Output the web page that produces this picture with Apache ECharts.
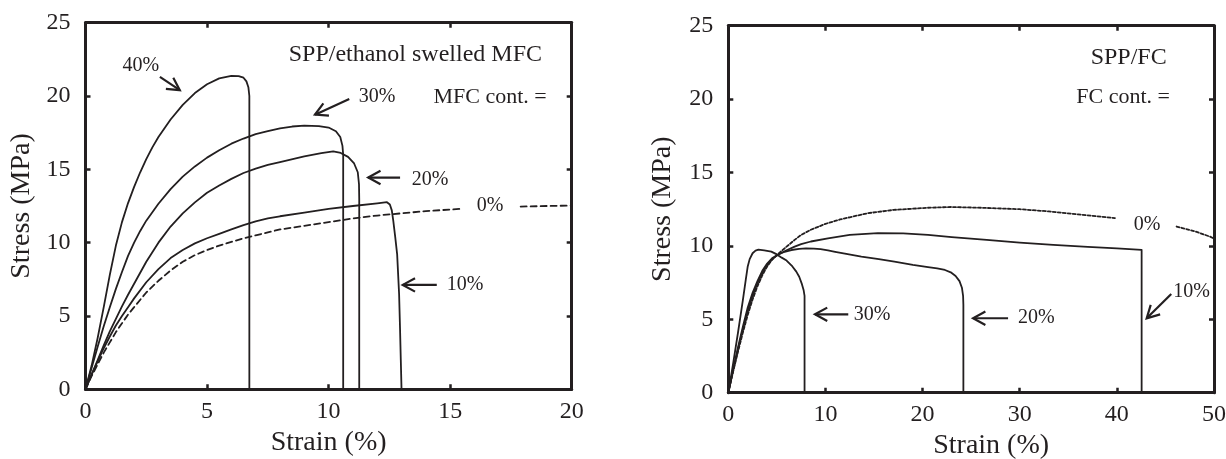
<!DOCTYPE html>
<html>
<head>
<meta charset="utf-8">
<script src="https://cdn.jsdelivr.net/npm/echarts@6/dist/echarts.min.js"></script>
<style>
  html, body { margin: 0; padding: 0; background: #fff; }
  #chart { width: 1226px; height: 459px; }
</style>
</head>
<body>
<div id="chart"></div>
<script>
// ---- Stress-strain curves, [strain %, stress MPa] ----
// SPP / ethanol swelled MFC
const mfc0 = [[0,0],[0.25,0.9],[0.5,1.7],[0.75,2.5],[1.0,3.2],[1.25,3.9],[1.5,4.5],[1.75,5.1],[2.0,5.6],[2.5,6.6],[3.0,7.4],[3.5,8.1],[4.0,8.7],[4.5,9.15],[5.0,9.5],[5.5,9.8],[6.0,10.05],[6.5,10.3],[7.0,10.5],[7.5,10.7],[8.0,10.9],[9.0,11.15],[10,11.4],[11,11.65],[12,11.85],[13,12.0],[14,12.15],[15.4,12.3],['-','-'],[17.9,12.46],[19,12.5],[20,12.53]];
const mfc10 = [[0,0],[0.25,1.0],[0.5,1.9],[0.75,2.8],[1.0,3.6],[1.25,4.35],[1.5,5.0],[1.75,5.6],[2.0,6.2],[2.5,7.3],[3.0,8.2],[3.5,8.95],[4.0,9.5],[4.5,9.95],[5.0,10.3],[5.5,10.6],[6.0,10.9],[6.5,11.2],[7.0,11.45],[7.5,11.65],[8.0,11.8],[9.0,12.05],[10.0,12.3],[11.0,12.5],[12.0,12.68],[12.4,12.76],[12.52,12.6],[12.6,12.2],[12.66,11.5],[12.74,10.4],[12.82,9.2],[12.9,6.5],[12.94,4.05],[12.97,2],[13.0,0]];
const mfc20 = [[0,0],[0.25,1.0],[0.5,2.0],[0.75,3.0],[1.0,3.95],[1.25,4.8],[1.5,5.65],[1.75,6.45],[2.0,7.2],[2.25,7.95],[2.5,8.7],[3.0,10.0],[3.5,11.1],[4.0,12.0],[4.5,12.75],[5.0,13.4],[5.5,13.9],[6.0,14.35],[6.5,14.75],[7.0,15.05],[7.5,15.3],[8.0,15.5],[9.0,15.88],[9.7,16.1],[10.19,16.22],[10.5,16.12],[10.8,15.85],[11.05,15.4],[11.2,14.8],[11.25,14.0],[11.26,13.0],[11.26,0]];
const mfc30 = [[0,0],[0.25,1.45],[0.5,2.9],[0.75,4.3],[1.0,5.6],[1.25,6.85],[1.5,8.0],[1.75,9.1],[2.0,10.0],[2.25,10.8],[2.5,11.5],[3.0,12.65],[3.5,13.65],[4.0,14.5],[4.5,15.2],[5.0,15.8],[5.5,16.3],[6.0,16.75],[6.5,17.1],[7.0,17.4],[7.5,17.6],[8.0,17.8],[8.5,17.92],[9.0,17.98],[9.6,17.95],[10.0,17.85],[10.3,17.6],[10.48,17.2],[10.57,16.6],[10.6,16.0],[10.6,0]];
const mfc40 = [[0,0],[0.25,1.6],[0.5,3.5],[0.75,5.6],[1.0,7.8],[1.25,9.8],[1.5,11.4],[1.75,12.7],[2.0,13.8],[2.25,14.8],[2.5,15.7],[2.75,16.5],[3.0,17.2],[3.5,18.4],[4.0,19.4],[4.5,20.2],[5.0,20.8],[5.5,21.2],[6.0,21.38],[6.3,21.36],[6.5,21.25],[6.62,21.0],[6.7,20.6],[6.74,20.0],[6.74,0]];

// SPP / FC
const fc0 = [[0,0],[0.5,1.45],[1.0,2.8],[1.5,4.1],[2.0,5.3],[2.5,6.35],[3.0,7.25],[3.5,8.0],[4.0,8.6],[4.5,9.05],[5.12,9.45],[6.0,9.95],[6.83,10.41],[7.5,10.75],[8.5,11.1],[10.0,11.5],[11.5,11.8],[12.5,11.95],[14.38,12.23],[17,12.45],[20.56,12.6],[23,12.65],[26,12.6],[30,12.5],[33,12.35],[36,12.15],[39.8,11.89],['-','-'],[46.15,11.32],[48,11.0],[49.6,10.63],[50,10.5]];
const fc10 = [[0,0],[0.5,1.6],[1.0,3.1],[1.5,4.5],[2.0,5.8],[2.5,6.8],[3.0,7.6],[3.5,8.3],[4.0,8.8],[4.5,9.15],[5.1,9.4],[6.0,9.7],[6.83,9.95],[7.5,10.12],[8.5,10.3],[10.26,10.52],[12.5,10.75],[15.4,10.87],[18,10.85],[20.56,10.75],[23,10.6],[26.6,10.41],[30,10.22],[33.45,10.07],[37,9.93],[40,9.83],[42.55,9.73],[42.55,0]];
const fc20 = [[0,0],[0.5,1.5],[1.0,2.95],[1.5,4.3],[2.0,5.55],[2.5,6.6],[3.0,7.45],[3.5,8.15],[4.0,8.7],[4.5,9.1],[5.1,9.4],[5.8,9.6],[6.5,9.72],[7.3,9.8],[8.0,9.83],[8.8,9.82],[9.5,9.78],[10.26,9.7],[11,9.6],[12,9.47],[13.7,9.27],[15.5,9.1],[17.1,8.93],[19,8.7],[20.56,8.55],[21.5,8.47],[22.3,8.36],[22.9,8.2],[23.4,7.95],[23.8,7.6],[24.05,7.15],[24.17,6.6],[24.2,6.0],[24.2,0]];
const fc30 = [[0,0],[0.5,2.0],[1.0,4.1],[1.5,6.3],[1.8,7.7],[2.0,8.6],[2.2,9.1],[2.5,9.5],[2.8,9.68],[3.1,9.74],[3.7,9.7],[4.43,9.61],[5.0,9.42],[5.5,9.2],[6.0,9.0],[6.6,8.6],[7.0,8.25],[7.3,7.9],[7.55,7.45],[7.75,7.0],[7.85,6.6],[7.85,0]];

// ---- Axis ranges and ticks ----
const mfcStrainTicks = { min: 0, max: 20, interval: 5 };
const fcStrainTicks = { min: 0, max: 50, interval: 10 };
const stressTicks = { min: 0, max: 25, interval: 5 };

// ---- Annotations (data coordinates) ----
const mfcArrows = [[3.06,21.3,3.88,20.4],[10.85,19.8,9.44,18.73],[12.94,14.44,11.63,14.44],[14.45,7.12,13.05,7.12]];
const mfcLabelText = ['40%','30%','20%','0%','10%'];
const mfcLabelAt = [[2.28,22.07],[11.99,19.95],[14.17,14.29],[16.64,12.51],[15.61,7.12]];
const mfcHeadText = ['SPP/ethanol swelled MFC','MFC cont. ='];
const mfcHeadAt = [[18.78,22.85],[18.97,19.92]];

const fcArrows = [[45.6,6.72,43.07,5.07],[28.8,5.07,25.2,5.07],[12.35,5.34,8.92,5.34]];
const fcLabelText = ['0%','10%','20%','30%'];
const fcLabelAt = [[43.1,11.43],[47.7,6.86],[31.7,5.09],[14.8,5.3]];
const fcHeadText = ['SPP/FC','FC cont. ='];
const fcHeadAt = [[45.13,22.8],[45.47,20.12]];

const FONT = '"Liberation Serif", "Times New Roman", serif';
const INK = '#231f20';

function mainX(grid, ticks, namePad) {
  return {
    gridIndex: grid, type: 'value', position: 'bottom',
    min: ticks.min, max: ticks.max, interval: ticks.interval,
    name: 'Strain (%)', nameLocation: 'middle', nameGap: 37,
    nameTextStyle: { fontFamily: FONT, fontSize: 28, color: INK, padding: namePad },
    axisLine: { show: true, onZero: false, lineStyle: { color: INK, width: 3 } },
    axisTick: { show: true, inside: true, length: 5, lineStyle: { color: INK, width: 2.5 } },
    axisLabel: { show: true, margin: 10, fontFamily: FONT, fontSize: 24, color: INK, showMinLabel: true, showMaxLabel: true, hideOverlap: false },
    splitLine: { show: false }
  };
}
function mirrorX(grid, ticks) {
  return {
    gridIndex: grid, type: 'value', position: 'top',
    min: ticks.min, max: ticks.max, interval: ticks.interval,
    axisLine: { show: true, onZero: false, lineStyle: { color: INK, width: 3 } },
    axisTick: { show: true, inside: true, length: 5, lineStyle: { color: INK, width: 2.5 } },
    axisLabel: { show: false }, splitLine: { show: false }
  };
}
function mainY(grid, gap) {
  return {
    gridIndex: grid, type: 'value', position: 'left',
    min: stressTicks.min, max: stressTicks.max, interval: stressTicks.interval,
    name: 'Stress (MPa)', nameLocation: 'middle', nameGap: gap, nameRotate: 90,
    nameTextStyle: { fontFamily: FONT, fontSize: 28, color: INK },
    axisLine: { show: true, onZero: false, lineStyle: { color: INK, width: 3 } },
    axisTick: { show: true, inside: true, length: 5, lineStyle: { color: INK, width: 2.5 } },
    axisLabel: { show: true, margin: 15, fontFamily: FONT, fontSize: 24, color: INK, showMinLabel: true, showMaxLabel: true, hideOverlap: false },
    splitLine: { show: false }
  };
}
function mirrorY(grid) {
  return {
    gridIndex: grid, type: 'value', position: 'right',
    min: stressTicks.min, max: stressTicks.max, interval: stressTicks.interval,
    axisLine: { show: true, onZero: false, lineStyle: { color: INK, width: 3 } },
    axisTick: { show: true, inside: true, length: 5, lineStyle: { color: INK, width: 2.5 } },
    axisLabel: { show: false }, splitLine: { show: false }
  };
}

function curve(data, xi, yi, dashed) {
  return {
    type: 'line', xAxisIndex: xi, yAxisIndex: yi, data: data,
    showSymbol: false, symbol: 'none', smooth: false, connectNulls: false,
    silent: true, animation: false, z: 3,
    lineStyle: { color: INK, width: dashed ? 1.8 : 1.8, type: dashed || 'solid', cap: 'round', join: 'round' }
  };
}

// Straight arrow with an open V-shaped head at the end point
function arrowSeries(data, xi, yi) {
  return {
    type: 'custom', xAxisIndex: xi, yAxisIndex: yi, data: data,
    encode: { x: [0, 2], y: [1, 3] }, silent: true, animation: false, z: 4,
    renderItem: function (params, api) {
      const a = api.coord([api.value(0), api.value(1)]);
      const b = api.coord([api.value(2), api.value(3)]);
      const ang = Math.atan2(b[1] - a[1], b[0] - a[0]);
      const L = 14, spread = 0.5;
      const h1 = [b[0] - L * Math.cos(ang - spread), b[1] - L * Math.sin(ang - spread)];
      const h2 = [b[0] - L * Math.cos(ang + spread), b[1] - L * Math.sin(ang + spread)];
      const st = { stroke: INK, lineWidth: 2.2, fill: null };
      return {
        type: 'group', children: [
          { type: 'line', shape: { x1: a[0], y1: a[1], x2: b[0], y2: b[1] }, style: st },
          { type: 'polyline', shape: { points: [h1, b, h2] }, style: st }
        ]
      };
    }
  };
}

// Text placed at data coordinates
function textSeries(at, texts, xi, yi, size, align) {
  return {
    type: 'custom', xAxisIndex: xi, yAxisIndex: yi, data: at,
    encode: { x: 0, y: 1 }, silent: true, animation: false, z: 5,
    renderItem: function (params, api) {
      const p = api.coord([api.value(0), api.value(1)]);
      return {
        type: 'text', x: p[0], y: p[1],
        style: {
          text: texts[params.dataIndex], fill: INK,
          font: size + 'px ' + FONT, align: align, verticalAlign: 'middle'
        }
      };
    }
  };
}

const chart = echarts.init(document.getElementById('chart'), null, { renderer: 'canvas' });
chart.setOption({
  backgroundColor: '#ffffff',
  animation: false,
  grid: [
    { left: 85.5, top: 22.7, width: 486.2, height: 366.6, containLabel: false, outerBoundsMode: 'none' },
    { left: 728.3, top: 25.7, width: 485.7, height: 367, containLabel: false, outerBoundsMode: 'none' }
  ],
  xAxis: [
    mainX(0, mfcStrainTicks, [0, 0, 0, 0]),
    mirrorX(0, mfcStrainTicks),
    mainX(1, fcStrainTicks, [0, 0, 0, 40]),
    mirrorX(1, fcStrainTicks)
  ],
  yAxis: [
    mainY(0, 50),
    mirrorY(0),
    mainY(1, 52),
    mirrorY(1)
  ],
  series: [
    curve(mfc0, 0, 0, [6, 4]),
    curve(mfc10, 0, 0),
    curve(mfc20, 0, 0),
    curve(mfc30, 0, 0),
    curve(mfc40, 0, 0),
    arrowSeries(mfcArrows, 0, 0),
    textSeries(mfcLabelAt, mfcLabelText, 0, 0, 20, 'center'),
    textSeries(mfcHeadAt.slice(0, 1), mfcHeadText.slice(0, 1), 0, 0, 24, 'right'),
    textSeries(mfcHeadAt.slice(1), mfcHeadText.slice(1), 0, 0, 22, 'right'),

    curve(fc0, 2, 2, [3, 2]),
    curve(fc10, 2, 2),
    curve(fc20, 2, 2),
    curve(fc30, 2, 2),
    arrowSeries(fcArrows, 2, 2),
    textSeries(fcLabelAt, fcLabelText, 2, 2, 20, 'center'),
    textSeries(fcHeadAt.slice(0, 1), fcHeadText.slice(0, 1), 2, 2, 24, 'right'),
    textSeries(fcHeadAt.slice(1), fcHeadText.slice(1), 2, 2, 22, 'right')
  ]
});
</script>
</body>
</html>
